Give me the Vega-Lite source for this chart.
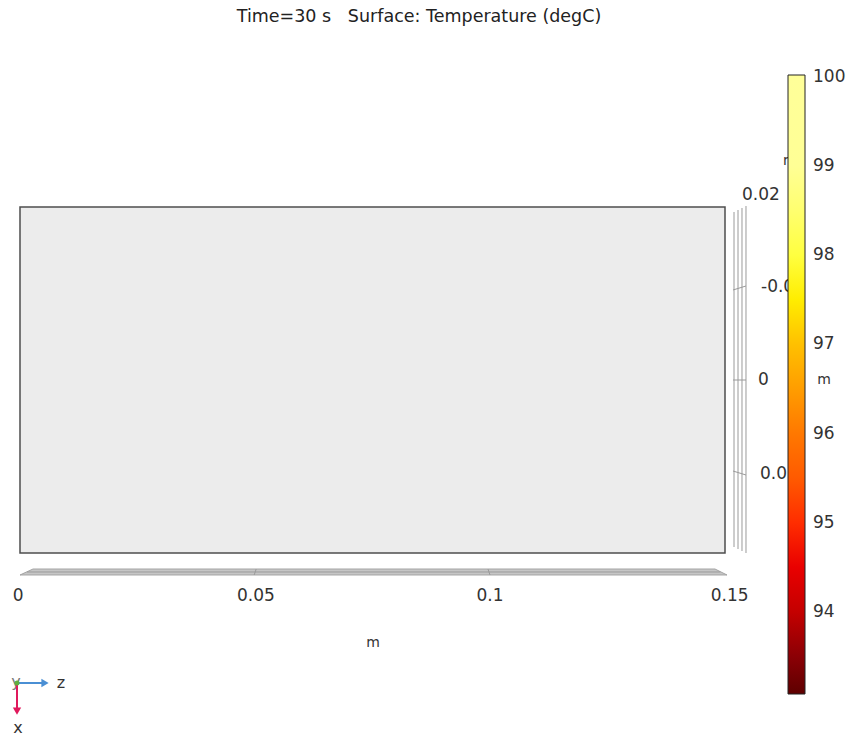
{
  "$schema": "https://vega.github.io/schema/vega-lite/v6.json",
  "width": 851,
  "height": 738,
  "autosize": {"type": "none"},
  "padding": 0,
  "background": "white",
  "config": {"view": {"stroke": null}, "text": {"font": "DejaVu Sans"}},
  "encoding": {
    "x": {"field": "x", "type": "quantitative", "axis": null, "scale": {"domain": [-0.00425532, 0.17680851], "nice": false, "zero": false}},
    "y": {"field": "y", "type": "quantitative", "axis": null, "scale": {"domain": [-0.07617021, 0.08085106], "nice": false, "zero": false}}
  },
  "layer": [
    {
      "data": {"values": [{"x": 0, "x2": 0.15, "y": -0.036809, "y2": 0.036809}]},
      "mark": {"type": "rect", "fill": "#ececec", "stroke": "#4d4d4d", "strokeWidth": 1.5},
      "encoding": {"x2": {"field": "x2"}, "y2": {"field": "y2"}}
    },
    {
      "data": {"values": [
        {"x": 0, "y": -0.041489, "y2": -0.041489},
        {"x": 0.002766, "y": -0.040213, "y2": -0.041489},
        {"x": 0.147872, "y": -0.040213, "y2": -0.041489},
        {"x": 0.150426, "y": -0.041489, "y2": -0.041489}
      ]},
      "mark": {"type": "area", "fill": "#c6c6c6", "stroke": "#a4a4a4", "strokeWidth": 1},
      "encoding": {"y2": {"field": "y2"}}
    },
    {
      "data": {"values": [
        {"x": 0.0015, "x2": 0.149, "y": -0.04085, "y2": -0.04085},
        {"x": 0.04983, "x2": 0.05025, "y": -0.041489, "y2": -0.040213},
        {"x": 0.09957, "x2": 0.1, "y": -0.040213, "y2": -0.041489},
        {"x": 0.151915, "x2": 0.151915, "y": 0.035745, "y2": -0.035532},
        {"x": 0.152766, "x2": 0.152766, "y": 0.03617, "y2": -0.035957},
        {"x": 0.153617, "x2": 0.153617, "y": 0.036596, "y2": -0.036383},
        {"x": 0.154468, "x2": 0.154468, "y": 0.037021, "y2": -0.036809},
        {"x": 0.151702, "x2": 0.154468, "y": 0.019149, "y2": 0.02},
        {"x": 0.151702, "x2": 0.154468, "y": 0, "y2": 0},
        {"x": 0.151702, "x2": 0.154468, "y": -0.019362, "y2": -0.020213}
      ]},
      "mark": {"type": "rule", "stroke": "#9a9a9a", "strokeWidth": 1},
      "encoding": {"x2": {"field": "x2"}, "y2": {"field": "y2"}}
    },
    {
      "data": {"values": [{"label": "Time=30 s\u00a0\u00a0\u00a0Surface: Temperature (degC)", "x": 0.084894, "y": 0.077234}]},
      "mark": {"type": "text", "fontSize": 17.5, "align": "center", "baseline": "middle", "color": "#222222"},
      "encoding": {"text": {"field": "label"}}
    },
    {
      "data": {"values": [
        {"label": "0", "x": -0.0004, "y": -0.045957},
        {"label": "0.05", "x": 0.0502, "y": -0.045957},
        {"label": "0.1", "x": 0.1, "y": -0.045957},
        {"label": "0.15", "x": 0.151, "y": -0.045957}
      ]},
      "mark": {"type": "text", "fontSize": 17, "align": "center", "baseline": "middle", "color": "#333333"},
      "encoding": {"text": {"field": "label"}}
    },
    {
      "data": {"values": [
        {"label": "0.02", "x": 0.153617, "y": 0.039362},
        {"label": "-0.01", "x": 0.15766, "y": 0.019787},
        {"label": "0", "x": 0.157021, "y": 0},
        {"label": "0.01", "x": 0.157447, "y": -0.02}
      ]},
      "mark": {"type": "text", "fontSize": 17, "align": "left", "baseline": "middle", "color": "#333333"},
      "encoding": {"text": {"field": "label"}}
    },
    {
      "data": {"values": [
        {"label": "m", "x": 0.075106, "y": -0.055957},
        {"label": "m", "x": 0.171064, "y": 0}
      ]},
      "mark": {"type": "text", "fontSize": 14, "align": "center", "baseline": "middle", "color": "#333333"},
      "encoding": {"text": {"field": "label"}}
    },
    {
      "data": {"values": [{"label": "m", "x": 0.16234, "y": 0.046596}]},
      "mark": {"type": "text", "fontSize": 14, "align": "left", "baseline": "middle", "color": "#333333"},
      "encoding": {"text": {"field": "label"}}
    },
    {
      "data": {"values": [{"label": "y", "x": -0.000851, "y": -0.064255}]},
      "mark": {"type": "text", "fontSize": 16, "align": "center", "baseline": "middle", "color": "#777777"},
      "encoding": {"text": {"field": "label"}}
    },
    {
      "data": {"values": [{"x": -0.000638, "x2": 0.004681, "y": -0.064468, "y2": -0.064468}]},
      "mark": {"type": "rule", "stroke": "#4a8fd4", "strokeWidth": 2},
      "encoding": {"x2": {"field": "x2"}, "y2": {"field": "y2"}}
    },
    {
      "data": {"values": [{"x": 0.005319, "y": -0.064468}]},
      "mark": {"type": "point", "shape": "triangle-right", "filled": true, "size": 70, "color": "#4a8fd4", "opacity": 1}
    },
    {
      "data": {"values": [{"x": -0.000638, "x2": -0.000638, "y": -0.064468, "y2": -0.069787}]},
      "mark": {"type": "rule", "stroke": "#e0195c", "strokeWidth": 2},
      "encoding": {"x2": {"field": "x2"}, "y2": {"field": "y2"}}
    },
    {
      "data": {"values": [{"x": -0.000638, "y": -0.070426}]},
      "mark": {"type": "point", "shape": "triangle-down", "filled": true, "size": 70, "color": "#e0195c", "opacity": 1}
    },
    {
      "data": {"values": [{"x": -0.000638, "y": -0.064468}]},
      "mark": {"type": "point", "shape": "circle", "filled": true, "size": 25, "color": "#5fae3e", "opacity": 1}
    },
    {
      "data": {"values": [
        {"label": "z", "x": 0.008723, "y": -0.064468},
        {"label": "x", "x": -0.000426, "y": -0.074043}
      ]},
      "mark": {"type": "text", "fontSize": 16, "align": "center", "baseline": "middle", "color": "#333333"},
      "encoding": {"text": {"field": "label"}}
    },
    {
      "data": {"values": [
        {"T": 93.08, "x": 0.08, "y": 0},
        {"T": 100, "x": 0.08, "y": 0}
      ]},
      "mark": {"type": "point", "opacity": 0, "filled": true},
      "encoding": {
        "color": {
          "field": "T",
          "type": "quantitative",
          "scale": {
            "domain": [93.08, 94, 94.8, 96, 97, 97.7, 99, 100.02],
            "range": ["#5e0000", "#c40000", "#ff0000", "#ff7800", "#ffc000", "#ffff00", "#ffff95", "#ffffff"],
            "nice": false,
            "zero": false
          },
          "legend": {
            "orient": "none",
            "legendX": 788,
            "legendY": 75,
            "direction": "vertical",
            "gradientLength": 619,
            "gradientThickness": 17,
            "gradientStrokeColor": "#222222",
            "gradientStrokeWidth": 1,
            "title": null,
            "values": [94, 95, 96, 97, 98, 99, 100],
            "format": "d",
            "labelFont": "DejaVu Sans",
            "labelFontSize": 17,
            "labelColor": "#333333",
            "labelOffset": 8,
            "labelOverlap": false,
            "padding": 0
          }
        }
      }
    }
  ]
}
